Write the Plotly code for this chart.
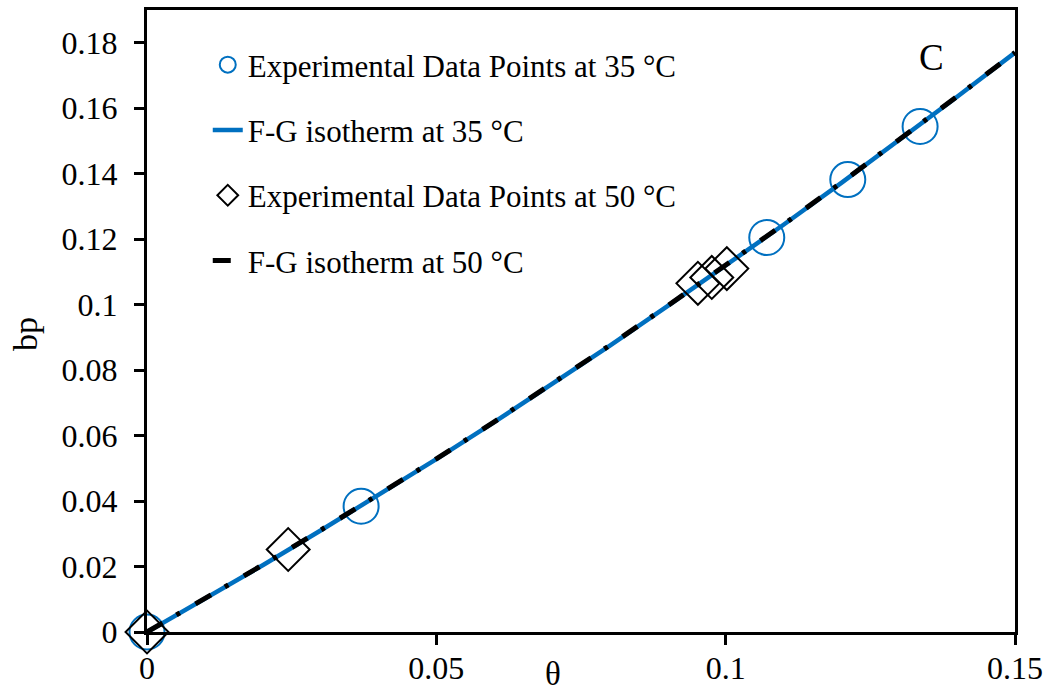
import plotly.graph_objects as go

# Experimental data at 35 °C
theta_35 = [0.0, 0.0370, 0.1071, 0.1211, 0.1336]
bp_35 = [0.0, 0.0384, 0.1205, 0.1382, 0.1544]

# Experimental data at 50 °C
theta_50 = [0.0, 0.0244, 0.0952, 0.0976, 0.1002]
bp_50 = [0.0, 0.0252, 0.1065, 0.1083, 0.1110]

# F-G isotherm curves
fit_theta = [0.0, 0.01, 0.02, 0.03, 0.04, 0.05, 0.06, 0.07, 0.08,
             0.09, 0.10, 0.11, 0.12, 0.13, 0.14, 0.15]
fit_bp_35 = [0.0, 0.0101, 0.0204, 0.0310, 0.0418, 0.0528, 0.0641, 0.0757,
             0.0875, 0.0996, 0.1118, 0.1244, 0.1372, 0.1502, 0.1635, 0.1770]
fit_bp_50 = [0.0, 0.0101, 0.0205, 0.0311, 0.0419, 0.0529, 0.0642, 0.0758,
             0.0876, 0.0997, 0.1119, 0.1245, 0.1373, 0.1503, 0.1636, 0.1770]

x_ticks = [0, 0.05, 0.1, 0.15]
x_tick_labels = ["0", "0.05", "0.1", "0.15"]
y_ticks = [0, 0.02, 0.04, 0.06, 0.08, 0.1, 0.12, 0.14, 0.16, 0.18]
y_tick_labels = ["0", "0.02", "0.04", "0.06", "0.08", "0.1", "0.12", "0.14", "0.16", "0.18"]

BLUE = "#0070C0"
FONT = "Liberation Serif"

fig = go.Figure()
fig.add_trace(go.Scatter(
    x=theta_35, y=bp_35, mode="markers", name="Experimental Data Points at 35 °C",
    legendgroup="a", cliponaxis=False,
    marker=dict(symbol="circle-open", size=35, color=BLUE, line=dict(width=2, color=BLUE)),
))
fig.add_trace(go.Scatter(
    x=fit_theta, y=fit_bp_35, mode="lines", name="F-G isotherm at 35 °C",
    legendgroup="b", line=dict(color=BLUE, width=4.5),
))
fig.add_trace(go.Scatter(
    x=theta_50, y=bp_50, mode="markers", name="Experimental Data Points at 50 °C",
    legendgroup="c", cliponaxis=False,
    marker=dict(symbol="diamond-open", size=33, color="black", line=dict(width=2, color="black")),
))
fig.add_trace(go.Scatter(
    x=fit_theta, y=fit_bp_50, mode="lines", name="F-G isotherm at 50 °C",
    legendgroup="d", line=dict(color="black", width=5, dash="18px,16px,4px,18px"),
))

pw = 1046 - 147 - 31
ph = 694 - 10 - 62

fig.update_layout(
    width=1046, height=694,
    margin=dict(l=147, r=31, t=10, b=62, autoexpand=False),
    paper_bgcolor="white", plot_bgcolor="white",
    font=dict(family=FONT, size=32, color="black"),
    showlegend=True,
    legend=dict(
        x=0.07, y=0.955, xanchor="left", yanchor="top",
        bgcolor="rgba(0,0,0,0)", font=dict(family=FONT, size=31, color="black"),
        tracegroupgap=22, itemsizing="trace",
    ),
    xaxis=dict(
        range=[0, 0.15], tickvals=x_ticks, ticktext=x_tick_labels, automargin=False,
        showgrid=False, zeroline=False, showline=True, linecolor="black", linewidth=3,
        mirror=True, ticks="outside", ticklen=10, tickwidth=2.5, tickcolor="black",
        ticklabelstandoff=-4, tickfont=dict(family=FONT, size=32),
    ),
    yaxis=dict(
        range=[0, 0.19], tickvals=y_ticks, ticktext=y_tick_labels, automargin=False,
        showgrid=False, zeroline=False, showline=True, linecolor="black", linewidth=3,
        mirror=True, ticks="outside", ticklen=10, tickwidth=2.5, tickcolor="black",
        ticklabelstandoff=10, tickfont=dict(family=FONT, size=32),
    ),
    annotations=[
        dict(text="bp", x=(25 - 147) / pw, y=(632 - 334) / ph, xref="paper", yref="paper",
             xanchor="center", yanchor="middle", showarrow=False,
             textangle=-90, font=dict(family=FONT, size=34)),
        dict(text="θ", x=(553 - 147) / pw, y=(632 - 674) / ph, xref="paper", yref="paper",
             xanchor="center", yanchor="middle", showarrow=False,
             font=dict(family=FONT, size=33)),
        dict(text="C", x=0.1355, y=0.1755, xref="x", yref="y", showarrow=False,
             xanchor="center", yanchor="middle",
             font=dict(family=FONT, size=37)),
    ],
)

fig.write_html("out.html", config={"displayModeBar": False},
               post_script="document.body.style.margin='0px';")
